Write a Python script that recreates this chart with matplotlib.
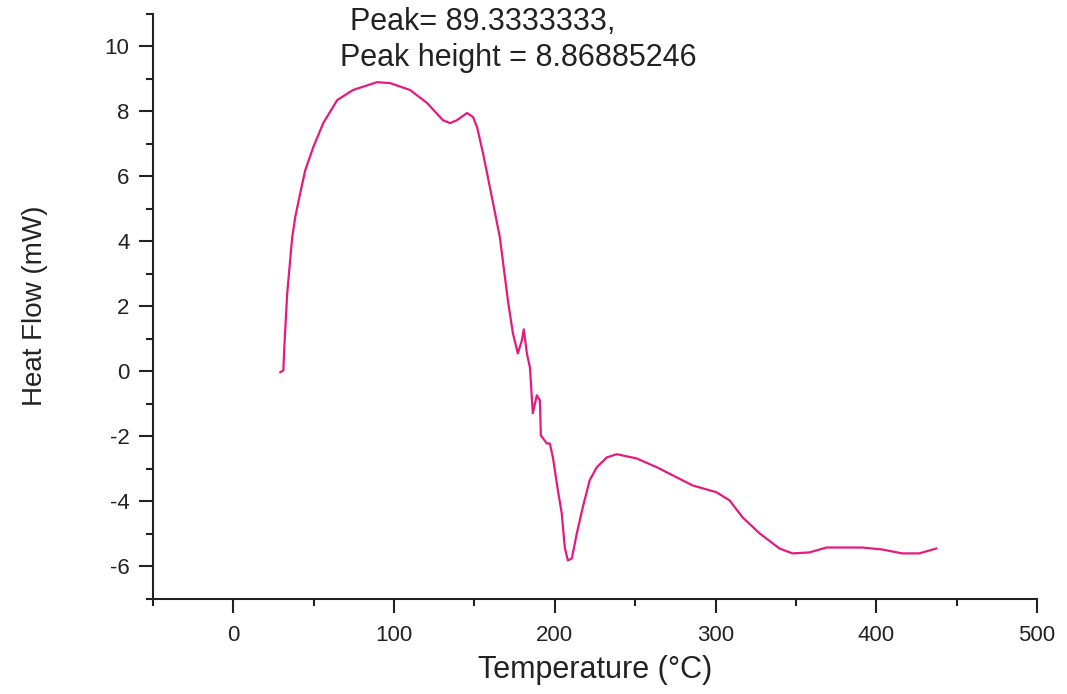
import matplotlib.pyplot as plt
from matplotlib.ticker import MultipleLocator

plt.rcParams['font.family'] = ['Liberation Sans', 'DejaVu Sans']
plt.rcParams['axes.unicode_minus'] = False

# DSC trace: temperature (°C) and heat flow (mW)
temperature = [29.2, 31.1, 31.7, 33.5, 36.6, 38.5, 41.6, 44.7, 49.7, 55.9,
               64.6, 74.5, 89.4, 97.5, 109.9, 120.5, 130.4, 134.8, 139.1, 145.3,
               149.1, 151.6, 155.3, 159.6, 165.8, 170.8, 173.9, 177.0, 179.5, 180.7,
               182.6, 184.5, 186.3, 188.8, 190.7, 191.3, 195.0, 196.9, 198.8, 201.9,
               204.3, 206.2, 208.1, 210.6, 213.7, 217.4, 221.7, 226.1, 232.3, 238.5,
               250.9, 263.4, 275.8, 285.7, 300.6, 308.7, 316.8, 327.3, 339.8, 347.8,
               358.4, 368.9, 391.3, 403.7, 416.1, 426.7, 437.3]
heat_flow = [-0.03, 0.03, 0.74, 2.40, 4.12, 4.74, 5.48, 6.18, 6.89, 7.63,
             8.34, 8.65, 8.89, 8.86, 8.65, 8.25, 7.72, 7.63, 7.72, 7.94,
             7.82, 7.51, 6.71, 5.66, 4.12, 2.18, 1.17, 0.55, 0.95, 1.29,
             0.55, 0.12, -1.29, -0.74, -0.89, -1.97, -2.22, -2.22, -2.65, -3.66,
             -4.37, -5.42, -5.82, -5.75, -4.98, -4.18, -3.35, -2.95, -2.65, -2.55,
             -2.68, -2.95, -3.26, -3.51, -3.72, -3.97, -4.49, -4.98, -5.45, -5.60,
             -5.57, -5.42, -5.42, -5.48, -5.60, -5.60, -5.45]

peak_text = "Peak= 89.3333333,"
height_text = "Peak height = 8.86885246"

fig = plt.figure(figsize=(10.67, 6.94), dpi=100)
ax = fig.add_axes([0.1434, 0.137, 0.8285, 0.8435])

ax.plot(temperature, heat_flow, color='#e5197f', lw=1.6)

ax.set_xlim(-50, 500)
ax.set_ylim(-7, 11)
ax.xaxis.set_major_locator(MultipleLocator(100))
ax.xaxis.set_minor_locator(MultipleLocator(50))
ax.yaxis.set_minor_locator(MultipleLocator(1))
ax.set_yticks([-6, -4, -2, 0, 2, 4, 6, 8, 10])

for side in ('top', 'right'):
    ax.spines[side].set_visible(False)
for side in ('left', 'bottom'):
    ax.spines[side].set_linewidth(1.5)
    ax.spines[side].set_color('#222222')

ax.tick_params(which='major', direction='out', length=10, width=1.5,
               labelsize=16, colors='#222222', pad=7)
ax.tick_params(axis='x', which='major', pad=9)
ax.tick_params(which='minor', direction='out', length=5, width=1.5, colors='#222222')

ax.set_xlabel('Temperature (°C)', fontsize=22, color='#222222', labelpad=6)
ax.set_ylabel('Heat Flow (mW)', fontsize=20, color='#222222', labelpad=41)

ax.text(72.7, 10.74, peak_text, fontsize=22, color='#222222',
        ha='left', va='center', clip_on=False)
ax.text(66.5, 9.63, height_text, fontsize=22, color='#222222',
        ha='left', va='center', clip_on=False)

fig.savefig('out.png', dpi=100)
